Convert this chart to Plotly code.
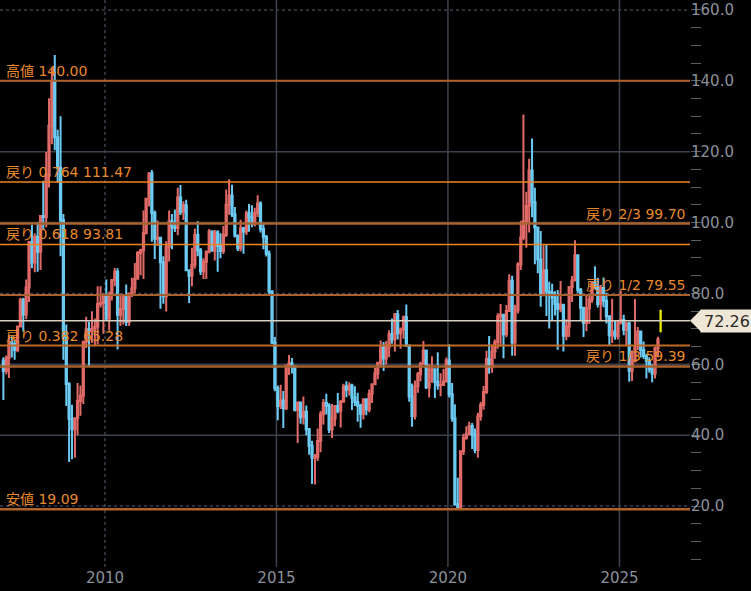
import pandas as pd
import plotly.graph_objects as go

# ---------------- data (monthly OHLC, Jan 2007 .. Feb 2026) ----------------
months = pd.date_range("2007-01-01", "2026-02-01", freq="MS") + pd.Timedelta(days=14)

opens = [
    61.05, 58.14, 61.79, 65.87, 65.71, 64.01, 70.68, 78.21, 74.04, 81.66, 94.53, 88.71,
    95.98, 91.75, 101.84, 101.58, 113.46, 127.35, 140.00, 124.08, 115.46, 100.64, 67.81, 54.43,
    44.60, 41.68, 44.76, 49.66, 51.12, 66.31, 69.89, 69.45, 69.96, 70.61, 77.00, 77.28,
    79.36, 72.89, 79.66, 83.76, 86.15, 73.97, 75.63, 78.95, 71.92, 79.97, 81.43, 84.11,
    91.38, 92.19, 96.97, 106.72, 113.93, 102.70, 95.42, 95.70, 88.81, 79.20, 93.19, 100.36,
    98.83, 98.48, 107.07, 103.02, 104.87, 86.53, 84.96, 88.06, 96.47, 92.19, 86.24, 88.91,
    91.82, 97.49, 92.05, 97.23, 93.46, 91.97, 96.56, 105.03, 107.65, 102.33, 96.38, 92.72,
    98.42, 97.49, 102.59, 101.58, 99.74, 102.71, 105.37, 98.17, 95.96, 91.16, 80.54, 66.15,
    53.27, 48.24, 49.76, 47.60, 59.63, 60.30, 59.47, 47.12, 49.20, 45.09, 46.59, 41.65,
    37.04, 33.62, 33.75, 38.34, 45.92, 49.10, 48.33, 41.60, 44.70, 48.24, 46.86, 49.44,
    53.72, 52.81, 54.01, 50.60, 49.33, 48.32, 46.04, 50.17, 47.23, 51.67, 54.38, 57.40,
    60.42, 64.73, 61.64, 64.94, 68.57, 67.04, 74.15, 68.76, 69.80, 73.25, 65.31, 50.93,
    45.41, 53.79, 57.22, 60.14, 63.91, 53.50, 58.47, 58.58, 55.10, 54.07, 54.18, 55.17,
    61.06, 51.56, 44.76, 20.48, 19.60, 35.49, 39.27, 40.27, 42.61, 40.22, 35.79, 45.34,
    48.52, 52.20, 61.50, 59.16, 63.58, 66.32, 73.47, 73.95, 68.50, 75.03, 83.57, 66.18,
    75.21, 88.15, 95.72, 100.28, 104.69, 114.67, 105.76, 98.62, 89.55, 79.49, 86.53, 80.55,
    80.26, 78.87, 77.05, 75.67, 76.78, 68.09, 70.64, 81.80, 83.63, 90.79, 81.02, 75.96,
    71.65, 75.85, 78.26, 83.17, 81.93, 76.99, 81.54, 77.91, 73.55, 68.17, 69.26, 68.00,
    71.72, 72.53, 69.76, 71.48, 58.21, 60.79, 65.11, 69.26, 64.01, 62.37, 60.98, 58.55,
    57.42, 64.50,
]
highs = [
    62.0, 62.5, 68.1, 67.9, 66.9, 70.9, 78.8, 78.8, 83.9, 94.8, 99.3, 97.0,
    100.1, 102.1, 111.8, 119.9, 135.1, 143.7, 147.3, 126.2, 130.0, 102.4, 71.2, 54.9,
    48.6, 45.0, 54.7, 54.0, 66.7, 73.4, 72.0, 75.0, 72.9, 82.0, 82.0, 80.0,
    83.9, 80.5, 83.9, 87.2, 87.1, 79.4, 79.4, 82.5, 80.2, 84.4, 88.6, 92.0,
    92.6, 103.4, 106.9, 114.2, 114.8, 103.4, 100.6, 96.0, 90.5, 94.7, 103.4, 102.4,
    103.7, 109.8, 110.6, 106.0, 106.4, 86.7, 92.9, 98.3, 100.4, 92.8, 89.9, 91.9,
    98.2, 97.8, 97.9, 97.8, 97.0, 99.0, 109.3, 112.2, 110.7, 104.4, 96.5, 100.8,
    98.8, 103.4, 105.2, 104.9, 104.2, 107.7, 106.0, 99.9, 96.5, 92.1, 80.9, 67.7,
    54.0, 54.2, 52.5, 59.9, 62.6, 61.8, 59.5, 49.3, 49.3, 50.9, 48.4, 42.0,
    38.4, 34.7, 41.9, 46.8, 50.2, 51.7, 49.0, 48.8, 48.4, 51.9, 49.9, 54.5,
    55.2, 54.9, 54.5, 53.8, 52.0, 48.9, 50.4, 50.2, 52.9, 54.6, 59.0, 60.5,
    66.7, 66.3, 66.6, 69.6, 72.9, 74.5, 75.3, 70.4, 73.8, 76.9, 65.5, 54.6,
    55.4, 57.8, 60.7, 66.6, 64.0, 60.0, 62.3, 58.8, 63.4, 57.5, 58.7, 61.9,
    65.65, 54.7, 48.7, 28.0, 35.7, 40.4, 42.5, 43.8, 43.4, 41.9, 46.3, 49.4,
    53.9, 63.8, 67.98, 65.5, 67.0, 74.4, 76.98, 74.0, 76.7, 85.4, 84.97, 76.8,
    88.8, 100.5, 130.5, 108.7, 118.0, 123.7, 109.8, 98.9, 97.6, 93.6, 93.7, 83.3,
    82.7, 80.6, 81.0, 83.5, 76.9, 72.7, 82.0, 84.9, 95.0, 91.0, 81.5, 76.2,
    79.3, 79.6, 83.3, 87.7, 84.4, 82.4, 84.5, 80.2, 73.8, 78.5, 72.3, 72.4,
    80.8, 74.0, 72.0, 72.0, 63.9, 78.4, 70.5, 69.4, 66.4, 63.0, 62.0, 60.0,
    65.0, 67.8,
]
lows = [
    49.9, 57.2, 56.1, 61.9, 61.3, 63.4, 70.5, 69.2, 72.7, 77.6, 87.1, 86.0,
    86.1, 86.6, 97.9, 98.7, 109.9, 122.1, 120.4, 111.3, 90.5, 61.3, 48.2, 32.4,
    33.2, 33.6, 40.0, 45.5, 48.8, 64.6, 59.5, 66.0, 65.1, 65.6, 76.0, 68.6,
    72.4, 69.5, 78.0, 82.0, 64.2, 70.8, 71.2, 70.8, 70.8, 79.0, 80.0, 84.0,
    85.1, 84.1, 96.8, 104.5, 94.6, 89.7, 93.4, 75.7, 77.1, 74.9, 89.0, 92.5,
    97.3, 96.4, 102.1, 100.7, 86.4, 77.3, 82.0, 87.0, 90.5, 85.2, 84.1, 84.1,
    91.3, 91.9, 89.3, 86.1, 89.9, 91.1, 95.9, 102.2, 101.6, 95.8, 92.0, 91.8,
    91.2, 96.5, 97.4, 98.7, 98.9, 101.6, 97.2, 92.5, 90.4, 79.8, 65.7, 52.4,
    44.2, 47.4, 42.0, 47.1, 57.0, 57.4, 46.7, 37.8, 43.2, 43.0, 40.0, 34.5,
    26.2, 26.05, 32.7, 35.2, 43.0, 45.8, 40.6, 39.2, 42.5, 46.2, 42.2, 49.3,
    50.7, 51.2, 47.1, 48.2, 43.8, 42.1, 44.4, 45.6, 46.5, 49.1, 54.2, 55.8,
    59.5, 58.1, 59.95, 62.0, 65.8, 63.6, 67.0, 64.4, 67.2, 64.9, 49.4, 42.4,
    44.4, 52.0, 55.2, 60.0, 53.0, 50.6, 54.8, 50.5, 52.8, 50.99, 54.0, 55.0,
    50.6, 43.8, 20.1, 19.09, 19.3, 34.4, 38.7, 40.0, 36.1, 34.9, 33.6, 44.1,
    47.2, 51.6, 57.3, 57.6, 61.6, 64.4, 65.0, 61.7, 67.6, 74.96, 62.4, 62.4,
    74.3, 86.6, 95.0, 92.9, 97.2, 101.5, 88.2, 85.7, 76.25, 79.3, 73.6, 70.1,
    72.5, 73.8, 64.1, 74.7, 63.6, 66.8, 67.7, 77.6, 83.5, 80.1, 72.4, 67.7,
    69.3, 71.4, 77.4, 81.2, 76.0, 72.5, 76.1, 71.5, 65.3, 66.0, 66.9, 67.0,
    71.2, 68.2, 65.2, 55.1, 55.3, 60.5, 64.0, 61.9, 61.5, 56.0, 57.6, 54.9,
    56.0, 62.0,
]
closes = [
    58.14, 61.79, 65.87, 65.71, 64.01, 70.68, 78.21, 74.04, 81.66, 94.53, 88.71, 95.98,
    91.75, 101.84, 101.58, 113.46, 127.35, 140.00, 124.08, 115.46, 100.64, 67.81, 54.43, 44.60,
    41.68, 44.76, 49.66, 51.12, 66.31, 69.89, 69.45, 69.96, 70.61, 77.00, 77.28, 79.36,
    72.89, 79.66, 83.76, 86.15, 73.97, 75.63, 78.95, 71.92, 79.97, 81.43, 84.11, 91.38,
    92.19, 96.97, 106.72, 113.93, 102.70, 95.42, 95.70, 88.81, 79.20, 93.19, 100.36, 98.83,
    98.48, 107.07, 103.02, 104.87, 86.53, 84.96, 88.06, 96.47, 92.19, 86.24, 88.91, 91.82,
    97.49, 92.05, 97.23, 93.46, 91.97, 96.56, 105.03, 107.65, 102.33, 96.38, 92.72, 98.42,
    97.49, 102.59, 101.58, 99.74, 102.71, 105.37, 98.17, 95.96, 91.16, 80.54, 66.15, 53.27,
    48.24, 49.76, 47.60, 59.63, 60.30, 59.47, 47.12, 49.20, 45.09, 46.59, 41.65, 37.04,
    33.62, 33.75, 38.34, 45.92, 49.10, 48.33, 41.60, 44.70, 48.24, 46.86, 49.44, 53.72,
    52.81, 54.01, 50.60, 49.33, 48.32, 46.04, 50.17, 47.23, 51.67, 54.38, 57.40, 60.42,
    64.73, 61.64, 64.94, 68.57, 67.04, 74.15, 68.76, 69.80, 73.25, 65.31, 50.93, 45.41,
    53.79, 57.22, 60.14, 63.91, 53.50, 58.47, 58.58, 55.10, 54.07, 54.18, 55.17, 61.06,
    51.56, 44.76, 20.48, 19.60, 35.49, 39.27, 40.27, 42.61, 40.22, 35.79, 45.34, 48.52,
    52.20, 61.50, 59.16, 63.58, 66.32, 73.47, 73.95, 68.50, 75.03, 83.57, 66.18, 75.21,
    88.15, 95.72, 100.28, 104.69, 114.67, 105.76, 98.62, 89.55, 79.49, 86.53, 80.55, 80.26,
    78.87, 77.05, 75.67, 76.78, 68.09, 70.64, 81.80, 83.63, 90.79, 81.02, 75.96, 71.65,
    75.85, 78.26, 83.17, 81.93, 76.99, 81.54, 77.91, 73.55, 68.17, 69.26, 68.00, 71.72,
    72.53, 69.76, 71.48, 58.21, 60.79, 65.11, 69.26, 64.01, 62.37, 60.98, 58.55, 57.42,
    64.50, 67.00,
]

# current (forming) bar
current_date = ["2026-03-15"]
current_open = [69.1]
current_high = [75.3]
current_low = [69.1]
current_close = [75.3]
current_price = 72.26

# retracement levels
levels = [140.00, 111.47, 99.70, 93.81, 79.55, 65.28, 59.39, 19.09]
level_labels = ["高値 140.00", "戻り 0.764 111.47", "戻り 2/3 99.70", "戻り 0.618 93.81",
                "戻り 1/2 79.55", "戻り 0.382 65.28", "戻り 1/3 59.39", "安値 19.09"]
level_side = ["left", "left", "right", "left", "right", "left", "right", "left"]
level_color = ["#b0622a", "#ee8422", "#a8622e", "#ee8422", "#a8602c", "#c06a28", "#a8622e", "#b0622a"]
level_width = [2, 1.5, 2.5, 1.5, 2, 2, 2.5, 2.5]

# gridlines
y_grid = [20, 40, 60, 80, 100, 120, 140, 160]
y_grid_dash = ["dot", "solid", "solid", "dot", "solid", "solid", "solid", "dot"]
x_grid = ["2010-01-01", "2015-01-01", "2020-01-01", "2025-01-01"]
x_grid_dash = ["dot", "solid", "solid", "solid"]
x_tick_text = ["2010", "2015", "2020", "2025"]
y_ticks = [20, 40, 60, 80, 100, 120, 140, 160]
y_tick_text = ["20.0", "40.0", "60.0", "80.0", "100.0", "120.0", "140.0", "160.0"]

# ---------------- figure ----------------
fig = go.Figure()

fig.add_trace(go.Candlestick(
    x=months, open=opens, high=highs, low=lows, close=closes,
    increasing=dict(line=dict(color="#e06a67", width=2), fillcolor="#d65c58"),
    decreasing=dict(line=dict(color="#6ccbf3", width=2), fillcolor="#7ad3f8"),
    showlegend=False, hoverinfo="skip",
))
fig.add_trace(go.Candlestick(
    x=current_date, open=current_open, high=current_high, low=current_low, close=current_close,
    increasing=dict(line=dict(color="#e6e600", width=1), fillcolor="#e6e600"),
    decreasing=dict(line=dict(color="#e6e600", width=1), fillcolor="#e6e600"),
    showlegend=False, hoverinfo="skip",
))

shapes = []
for v, d in zip(y_grid, y_grid_dash):
    shapes.append(dict(type="line", xref="paper", yref="y", x0=0, x1=1, y0=v, y1=v,
                       line=dict(color="#3c424d", width=1.5, dash=d), layer="below"))
for v, d in zip(x_grid, x_grid_dash):
    shapes.append(dict(type="line", xref="x", yref="paper", x0=v, x1=v, y0=0, y1=1,
                       line=dict(color="#3c424d", width=1.5, dash=d), layer="below"))
for v, c, w in zip(levels, level_color, level_width):
    shapes.append(dict(type="line", xref="paper", yref="y", x0=0, x1=1, y0=v, y1=v,
                       line=dict(color=c, width=w), layer="above"))
# current price line
shapes.append(dict(type="line", xref="paper", yref="y", x0=0, x1=1, y0=current_price, y1=current_price,
                   line=dict(color="#d6cfc0", width=1.5), layer="above"))
# price tag arrow
shapes.append(dict(type="path", xref="paper", yref="y",
                   path=f"M 1.0 {current_price} L {1 + 11/690} {current_price + 3.1} "
                        f"L {1 + 11/690} {current_price - 3.1} Z",
                   fillcolor="#efe6d5", line=dict(width=0), layer="above"))

annotations = []
for v, t, s in zip(levels, level_labels, level_side):
    annotations.append(dict(
        text=t, xref="paper", yref="y", x=0.006 if s == "left" else 0.997, y=v,
        xanchor="left" if s == "left" else "right", yanchor="bottom", yshift=0,
        showarrow=False,
        font=dict(family="DejaVu Sans, Noto Sans CJK JP", size=14, color="#e8892c"),
    ))
annotations.append(dict(
    text=f"{current_price:.2f}", xref="paper", yref="y", x=1, y=current_price,
    xanchor="left", yanchor="middle", xshift=10, showarrow=False,
    bgcolor="#efe6d5", borderpad=2, width=48, height=18, align="center",
    font=dict(family="DejaVu Sans", size=16, color="#2b2b2b"),
))

fig.update_layout(
    width=751, height=591,
    margin=dict(l=0, r=61, t=0, b=24),
    paper_bgcolor="#000000", plot_bgcolor="#000000",
    shapes=shapes, annotations=annotations,
    showlegend=False,
    xaxis=dict(
        type="date", range=["2006-12-10", "2027-01-22"],
        rangeslider=dict(visible=False),
        showgrid=False, zeroline=False, showline=False,
        tickvals=x_grid, ticktext=x_tick_text, ticks="",
        tickfont=dict(family="DejaVu Sans", size=15, color="#8b919a"),
    ),
    yaxis=dict(
        side="right", range=[2.8, 162.8],
        showgrid=False, zeroline=False, showline=False,
        tickvals=y_ticks, ticktext=y_tick_text, ticks="",
        tickfont=dict(family="DejaVu Sans", size=15, color="#8b919a"),
        minor=dict(dtick=5, tick0=0, ticks="outside", ticklen=10, tickcolor="#5a606a", showgrid=False),
    ),
)

fig.write_html(
    "out.html",
    config={"displayModeBar": False},
    post_script="document.body.style.margin='0';document.body.style.background='#000';"
                "document.body.style.overflow='hidden';",
)
